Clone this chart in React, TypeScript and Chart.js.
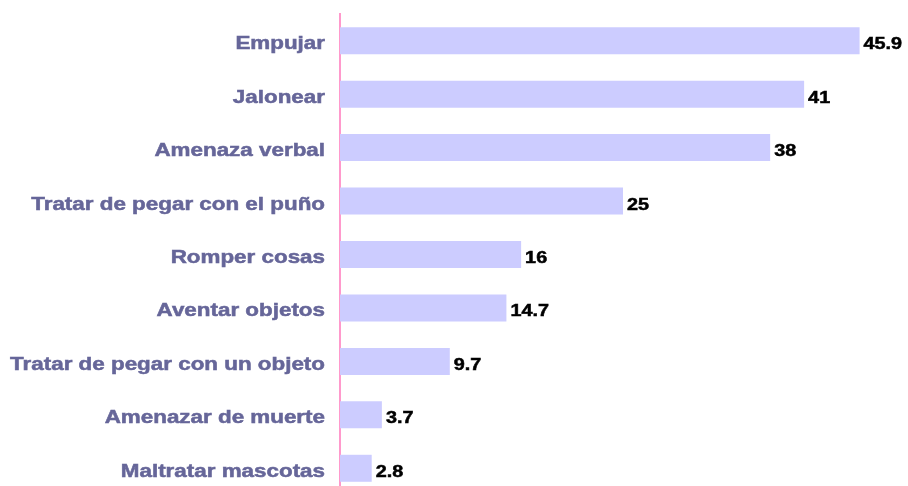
import React, { useEffect, useRef } from "react";
import { Chart, registerables } from "chart.js";

Chart.register(...registerables);

const categories = [
  "Empujar",
  "Jalonear",
  "Amenaza verbal",
  "Tratar de pegar con el puño",
  "Romper cosas",
  "Aventar objetos",
  "Tratar de pegar con un objeto",
  "Amenazar de muerte",
  "Maltratar mascotas",
];
const values = [45.9, 41, 38, 25, 16, 14.7, 9.7, 3.7, 2.8];
const valueLabels = ["45.9", "41", "38", "25", "16", "14.7", "9.7", "3.7", "2.8"];

const FONT = '"Liberation Sans", Arial, sans-serif';
const LABEL_STRETCH = 1.28;
const VALUE_STRETCH = 1.2;

const textPlugin = {
  id: "stretchedText",
  afterDatasetsDraw(chart: any) {
    const ctx = chart.ctx;
    const yScale = chart.scales.y;
    const meta = chart.getDatasetMeta(0);
    ctx.save();
    ctx.fillStyle = "#666699";
    ctx.strokeStyle = "#666699";
    ctx.lineWidth = 0.5;
    ctx.font = `bold 17.5px ${FONT}`;
    ctx.textAlign = "right";
    ctx.textBaseline = "alphabetic";
    categories.forEach((lab, i) => {
      const y = yScale.getPixelForTick(i);
      ctx.save();
      ctx.translate(chart.chartArea.left - 15, y + 8.5);
      ctx.scale(LABEL_STRETCH, 1);
      ctx.fillText(lab, 0, 0);
      ctx.strokeText(lab, 0, 0);
      ctx.restore();
    });
    ctx.fillStyle = "#000000";
    ctx.strokeStyle = "#000000";
    ctx.font = `bold 16.5px ${FONT}`;
    ctx.textAlign = "left";
    meta.data.forEach((bar: any, i: number) => {
      ctx.save();
      ctx.translate(bar.x + 4, bar.y + 8.5);
      ctx.scale(VALUE_STRETCH, 1);
      ctx.fillText(valueLabels[i], 0, 0);
      ctx.strokeText(valueLabels[i], 0, 0);
      ctx.restore();
    });
    ctx.restore();
  },
};

export default function App() {
  const ref = useRef<HTMLCanvasElement>(null);
  useEffect(() => {
    if (!ref.current) return;
    const chart = new Chart(ref.current, {
      type: "bar",
      data: {
        labels: categories,
        datasets: [
          {
            data: values,
            backgroundColor: "#CCCCFF",
            borderWidth: 0,
            barPercentage: 0.505,
            categoryPercentage: 1,
          },
        ],
      },
      options: {
        indexAxis: "y",
        responsive: false,
        animation: false,
        devicePixelRatio: 1,
        layout: { padding: { top: 14, bottom: 5, left: 0, right: 2 } },
        plugins: { legend: { display: false }, tooltip: { enabled: false } },
        scales: {
          x: { display: false, min: 0, max: 50 },
          y: {
            afterFit: (s: any) => {
              s.width = 340;
            },
            grid: { display: false, drawTicks: false },
            border: { display: true, color: "#FF99CC", width: 2 },
            ticks: { display: false },
          },
        },
      },
      plugins: [textPlugin],
    });
    return () => chart.destroy();
  }, []);
  return (
    <div
      style={{
        position: "fixed",
        left: 0,
        top: 0,
        width: 908,
        height: 486,
        overflow: "hidden",
        background: "#ffffff",
      }}
    >
      <canvas ref={ref} width={908} height={500} style={{ display: "block" }} />
    </div>
  );
}
